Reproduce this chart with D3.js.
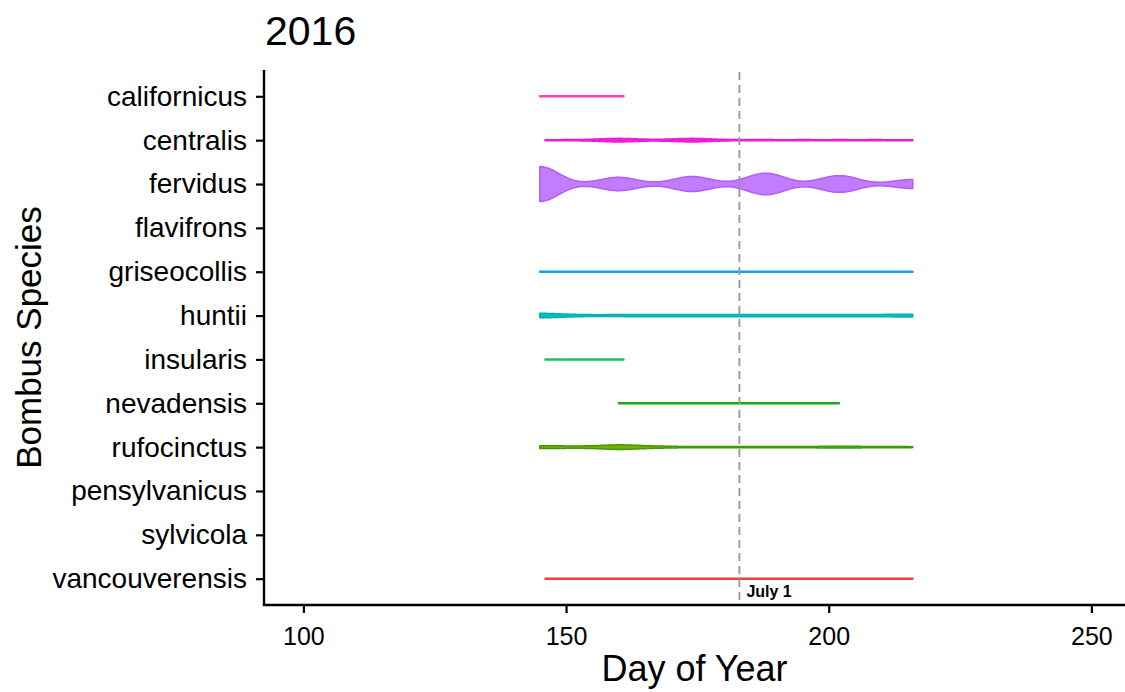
<!DOCTYPE html>
<html>
<head>
<meta charset="utf-8">
<script src="https://cdn.jsdelivr.net/npm/d3@7/dist/d3.min.js"></script>
<style>
  html, body { margin: 0; padding: 0; background: #fff; }
  text { font-family: "Liberation Sans", Arial, Helvetica, sans-serif; }
</style>
</head>
<body>
<script>
// ---------------- data ----------------
const species = ["californicus","centralis","fervidus","flavifrons","griseocollis","huntii",
                 "insularis","nevadensis","rufocinctus","pensylvanicus","sylvicola","vancouverensis"];
// sampling days with observations, per species (same order as species)
const obsDays = [
  [145,153,161],
  [146,153,160,167,174,181,188,195,202,209,216],
  [145,160,174,188,202,216],
  [],
  [145,152,160,167,174,181,188,195,202,209,216],
  [145,152,160,167,174,181,188,195,202,209,216],
  [146,153,161],
  [160,167,174,181,188,195,202],
  [145,152,160,167,174,181,188,195,202,209,216],
  [],
  [],
  [146,153,160,167,174,181,188,195,202,209,216]
];
// number of bees observed on each of those days
const obsCounts = [
  [1,1,1],
  [1,1,4,1,4,1,1,1,1,1,1],
  [42,16,18,26,20,11],
  [],
  [1,1,1,1,1,1,1,1,1,1,1],
  [5,2,2,2,2,2,2,2,2,2,3],
  [1,1,1],
  [1,1,1,1,1,1,1],
  [3,2,5,2,1,1,1,1,2,1,1],
  [],
  [],
  [1,1,1,1,1,1,1,1,1,1,1]
];
const xTicks = [100,150,200,250];
const july1 = 183;
const julyLabel = "July 1";
const titleText = "2016";
const xTitle = "Day of Year";
const yTitle = "Bombus Species";

// ---------------- styles ----------------
const fillColors   = ["#FF3DB5","#F01FDA","#C27CFF","#999999","#16A4E6","#00BFC4","#1CC06C","#1FA31A","#7CAE00","#999999","#999999","#F23F37"];
const strokeColors = ["#FF3DB5","#EE1AD8","#B45EF6","#999999","#12A2E4","#00B1B7","#1ABF68","#1FA31A","#3A9C00","#999999","#999999","#F23F37"];

// ---------------- layout ----------------
const W = 1125, H = 692;
const pLeft = 264, pRight = 1125, pTop = 70, pBottom = 605;

const svg = d3.select("body").append("svg")
  .attr("width", W).attr("height", H);

const x = d3.scaleLinear().domain([92.5, 256.4]).range([pLeft, pRight]);
const y = d3.scalePoint().domain(species).range([pTop, pBottom]).padding(0.6);

// ---------------- violins (gaussian kernel density) ----------------
const bw = 3.6;
function density(t, days, counts) {
  return d3.sum(days, (d, i) => counts[i] * Math.exp(-((t - d) * (t - d)) / (2 * bw * bw)));
}
const profiles = species.map((sp, i) => {
  const days = obsDays[i], counts = obsCounts[i];
  if (!days.length) return [];
  const lo = d3.min(days), hi = d3.max(days);
  const pts = [];
  const n = Math.round((hi - lo) / 0.2);
  for (let k = 0; k <= n; k++) {
    const t = lo + (hi - lo) * k / n;
    pts.push({ t, d: density(t, days, counts) });
  }
  return pts;
});
const gmax = d3.max(profiles, p => d3.max(p, q => q.d)) || 1;
const w = d3.scaleLinear().domain([0, gmax]).range([0, y.step() * 0.4]);

const gV = svg.append("g");
species.forEach((sp, i) => {
  const p = profiles[i];
  if (!p.length) return;
  const cy = y(sp);
  const area = d3.area()
    .x(d => x(d.t))
    .y0(d => cy - w(d.d))
    .y1(d => cy + w(d.d));
  gV.append("path")
    .attr("d", area(p) + "Z")
    .attr("fill", fillColors[i])
    .attr("stroke", strokeColors[i])
    .attr("stroke-width", 1.5)
    .attr("stroke-linejoin", "round");
});

// ---------------- July 1 reference ----------------
svg.append("line")
  .attr("x1", x(july1)).attr("x2", x(july1))
  .attr("y1", pTop + 2).attr("y2", pBottom)
  .attr("stroke", "#999999").attr("stroke-width", 1.8)
  .attr("stroke-dasharray", "8,5");
svg.append("text")
  .attr("x", x(july1) + 7).attr("y", 597)
  .attr("font-size", 16).attr("font-weight", "bold")
  .attr("fill", "#000")
  .text(julyLabel);

// ---------------- axes ----------------
const gx = svg.append("g").attr("transform", `translate(0,${pBottom})`)
  .call(d3.axisBottom(x).tickValues(xTicks).tickSize(8).tickSizeOuter(0).tickPadding(14).tickFormat(d3.format("d")));
gx.select(".domain").attr("stroke", "#000").attr("stroke-width", 2.4)
  .attr("d", `M${pLeft - 1.2},0H${pRight}`);
gx.selectAll(".tick line").attr("stroke", "#000").attr("stroke-width", 2.2);
gx.selectAll(".tick text").attr("font-size", 25).attr("fill", "#000")
  .attr("font-family", "Liberation Sans, Arial, sans-serif");

const gy = svg.append("g").attr("transform", `translate(${pLeft},0)`)
  .call(d3.axisLeft(y).tickSize(8).tickSizeOuter(0).tickPadding(9));
gy.select(".domain").attr("stroke", "#000").attr("stroke-width", 2.4)
  .attr("d", `M0,${pTop}V${pBottom}`);
gy.selectAll(".tick line").attr("stroke", "#000").attr("stroke-width", 2.2);
gy.selectAll(".tick text").attr("font-size", 28).attr("fill", "#000")
  .attr("font-family", "Liberation Sans, Arial, sans-serif");

// ---------------- titles ----------------
svg.append("text")
  .attr("x", pLeft + 1).attr("y", 45)
  .attr("font-size", 41).attr("fill", "#000")
  .text(titleText);

svg.append("text")
  .attr("x", (pLeft + pRight) / 2).attr("y", 681)
  .attr("text-anchor", "middle")
  .attr("font-size", 36).attr("fill", "#000")
  .text(xTitle);

svg.append("text")
  .attr("transform", `translate(41,${(pTop + pBottom) / 2}) rotate(-90)`)
  .attr("text-anchor", "middle")
  .attr("font-size", 35).attr("fill", "#000")
  .text(yTitle);
</script>
</body>
</html>
